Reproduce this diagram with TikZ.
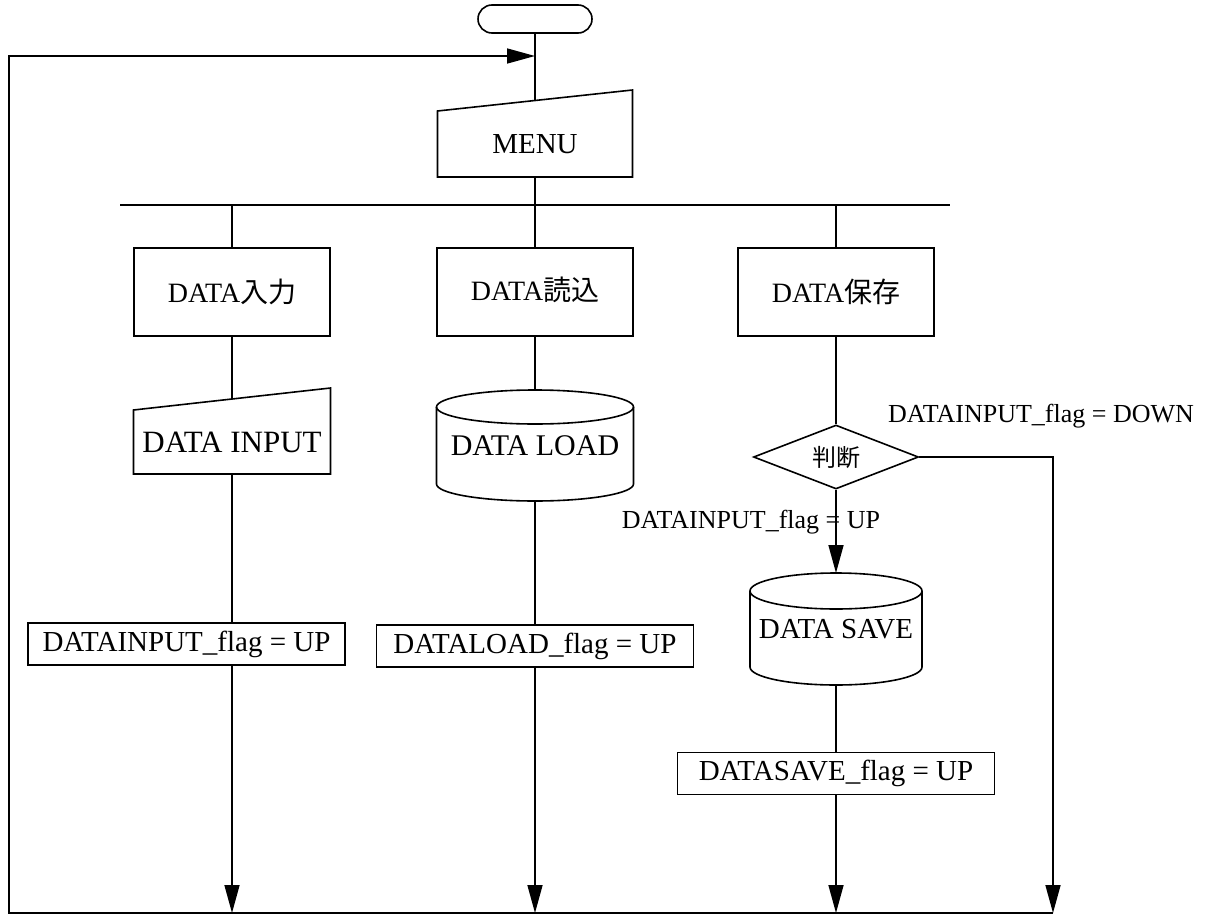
\documentclass[tikz,border=0pt]{standalone}
\usepackage{fontspec}
\setmainfont{Liberation Serif}
\newfontfamily\jp{Noto Sans CJK JP}
\usetikzlibrary{arrows.meta,shapes.geometric,calc}
\begin{document}
\begin{tikzpicture}[x=1pt,y=-1pt, line width=1.6pt, line join=miter,
  base/.style={inner sep=0pt, outer sep=0pt, font=\fontsize{29}{32}\selectfont},
  box/.style={base, draw, rectangle},
  procbox/.style={box, minimum width=196pt, minimum height=88pt, font=\fontsize{28}{30}\selectfont},
  flagbox/.style={box, minimum width=317pt, minimum height=42pt},
  lbl/.style={inner sep=0pt, font=\fontsize{26}{29}\selectfont},
  arr/.style={-{Triangle[length=28pt,width=15pt]}},
  bus/.style={line width=2pt},
]
\useasboundingbox (0,0) rectangle (1208,918);

% terminator
\node[box, rounded corners=14pt, minimum width=114pt, minimum height=28pt] (term) at (535,19) {};

% MENU (manual input)
\node[base, minimum width=195pt, minimum height=66pt] (menu) at (535,144) {MENU};
\draw (menu.north west) -- ($(menu.north east)+(0,-21)$) -- (menu.south east) -- (menu.south west) -- cycle;
\coordinate (menutop) at (535,100.6);
\coordinate (join) at (535,56);

% bus
\coordinate (busL) at (120,205);
\coordinate (busR) at (950,205);

% process boxes
\node[procbox] (in1) at (232,292) {DATA{\jp 入力}};
\node[procbox] (ld1) at (535,292) {\raisebox{6pt}{DATA{\jp 読込}}};
\node[procbox] (sv1) at (836,292) {\raisebox{3pt}{DATA{\jp 保存}}};

% DATA INPUT (manual input)
\node[base, minimum width=197pt, minimum height=64pt, font=\fontsize{31}{33}\selectfont] (in2) at (232,442) {DATA INPUT};
\draw (in2.north west) -- ($(in2.north east)+(0,-22)$) -- (in2.south east) -- (in2.south west) -- cycle;
\coordinate (in2top) at (232,399);

% DATA LOAD cylinder
\node[base, minimum width=197pt, minimum height=77pt, font=\fontsize{30}{32}\selectfont] (ld2) at (535,445.5) {DATA LOAD};
\draw (ld2.north) ellipse [x radius=98.5pt, y radius=17pt];
\draw (ld2.north west) -- (ld2.south west) arc [start angle=180, end angle=360, x radius=98.5pt, y radius=17pt] -- (ld2.north east);
\coordinate (ld2top) at ($(ld2.north)+(0,-17)$);
\coordinate (ld2bot) at ($(ld2.south)+(0,17)$);

% decision
\node[diamond, draw, inner sep=0pt, aspect=2.5, minimum width=165pt, minimum height=64pt, font=\jp\fontsize{24}{26}\selectfont] (dec) at (836,457) {判断};

% DATA SAVE cylinder
\node[base, minimum width=172pt, minimum height=76pt] (sv2) at (836,629) {DATA SAVE};
\draw (sv2.north) ellipse [x radius=86pt, y radius=18pt];
\draw (sv2.north west) -- (sv2.south west) arc [start angle=180, end angle=360, x radius=86pt, y radius=18pt] -- (sv2.north east);
\coordinate (sv2top) at ($(sv2.north)+(0,-18)$);
\coordinate (sv2bot) at ($(sv2.south)+(0,18)$);

% flag boxes
\node[flagbox] (in3) at (186.5,644) {DATAINPUT\_flag = UP};
\node[flagbox] (ld3) at (535,646) {DATALOAD\_flag = UP};
\node[flagbox] (sv3) at (836,773.5) {DATASAVE\_flag = UP};

% labels
\node[lbl] (lup) at (751,522) {DATAINPUT\_flag = UP};
\node[lbl] (ldown) at (1041,416) {DATAINPUT\_flag = DOWN};

% loop coordinates
\coordinate (bl) at (9,913);
\coordinate (br) at (1053,913);

% connectors
\draw (term.south) -- (menutop);
\draw (menu.south) -- (menu.south |- busL);
\draw[bus] (busL) -- (busR);
\draw (in1.north |- busL) -- (in1.north);
\draw (ld1.north |- busL) -- (ld1.north);
\draw (sv1.north |- busL) -- (sv1.north);
\draw (in1.south) -- (in2top);
\draw (ld1.south) -- (ld2top);
\draw (sv1.south) -- (dec.north);
\draw (in2.south) -- (in2.south |- in3.north);
\draw (ld2bot) -- (ld3.north);
\draw[arr] (dec.south) -- (sv2top);
\draw (sv2bot) -- (sv3.north);
\draw[arr] (in2.south |- in3.south) -- (in2.south |- bl);
\draw[arr] (ld3.south) -- (ld3.south |- bl);
\draw[arr] (sv3.south) -- (sv3.south |- bl);
\draw[arr] (dec.east) -- (dec.east -| br) -- (br);
\draw[arr] (br) -- (bl) -- (bl |- join) -- (join);
\end{tikzpicture}
\end{document}
